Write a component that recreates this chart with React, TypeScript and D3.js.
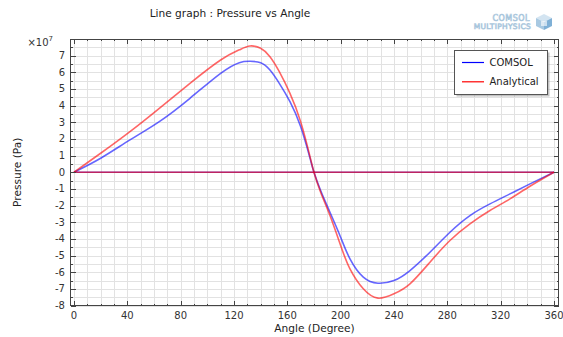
import React, { useEffect, useRef } from 'react';
import * as d3 from 'd3';

// angle in degrees, pressure in units of 1e7 Pa
const angles = [0, 20, 42, 64, 87, 110, 124, 132, 140, 147, 154, 162, 170, 177, 180, 185, 192, 200, 207, 217, 228, 240, 252, 267, 282, 297, 312, 327, 342, 360];
const comsol = [0, 0.84, 1.94, 3.04, 4.44, 5.94, 6.58, 6.66, 6.58, 6.14, 5.34, 4.24, 2.74, 0.85, 0, -1.1, -2.4, -3.9, -5.2, -6.3, -6.66, -6.5, -5.9, -4.8, -3.6, -2.6, -1.9, -1.3, -0.7, 0];
const analytical = [0, 1.14, 2.44, 3.84, 5.34, 6.74, 7.35, 7.58, 7.44, 6.94, 6.04, 4.74, 3.04, 0.95, 0, -1.2, -2.6, -4.4, -5.8, -7.0, -7.56, -7.3, -6.7, -5.4, -4.1, -3.1, -2.3, -1.6, -0.84, 0];
// closing segment along the zero line
const baseAngles = [0, 360];
const baseValues = [0, 0];

const xTicks = [0, 40, 80, 120, 160, 200, 240, 280, 320, 360];
const yTicks = [-8, -7, -6, -5, -4, -3, -2, -1, 0, 1, 2, 3, 4, 5, 6, 7];

const seriesNames = ['COMSOL', 'Analytical'];
const seriesColors = ['#0000ff', '#ff0000'];

const FONT = 'DejaVu Sans, Verdana, sans-serif';

function LineGraph() {
  const ref = useRef<SVGSVGElement>(null);

  useEffect(() => {
    const width = 563;
    const height = 337;
    const plot = { left: 70.5, right: 558.5, top: 39, bottom: 305.5 };

    const svg = d3.select(ref.current);
    svg.selectAll('*').remove();
    svg.attr('width', width).attr('height', height).style('background', 'white');

    const x = d3.scaleLinear().domain([-2.6, 363.4]).range([plot.left, plot.right]);
    const y = d3.scaleLinear().domain([-8, 8]).range([plot.bottom, plot.top]);

    const minorX = d3.range(0, 361, 10);
    const minorY = d3.range(-8, 8.01, 0.5);

    // grid
    const grid = svg.append('g').attr('stroke', '#e2e2e2').attr('stroke-width', 1).attr('shape-rendering', 'crispEdges');
    grid.selectAll('.gx').data(minorX).enter().append('line')
      .attr('x1', d => Math.round(x(d)) + 0.5).attr('x2', d => Math.round(x(d)) + 0.5)
      .attr('y1', plot.top).attr('y2', plot.bottom);
    grid.selectAll('.gy').data(minorY).enter().append('line')
      .attr('y1', d => Math.round(y(d)) + 0.5).attr('y2', d => Math.round(y(d)) + 0.5)
      .attr('x1', plot.left).attr('x2', plot.right);

    // curves
    const line = d3.line<[number, number]>()
      .x(d => x(d[0]))
      .y(d => y(d[1]))
      .curve(d3.curveNatural);

    [comsol, analytical].forEach((vals, i) => {
      const pts = angles.map((a, k) => [a, vals[k]] as [number, number]);
      const base = baseAngles.map((a, k) => [a, baseValues[k]] as [number, number]);
      svg.append('path').datum(base).attr('d', line)
        .attr('fill', 'none').attr('stroke', seriesColors[i]).attr('stroke-opacity', 0.6).attr('stroke-width', 1.6);
      svg.append('path').datum(pts).attr('d', line)
        .attr('fill', 'none').attr('stroke', seriesColors[i]).attr('stroke-opacity', 0.6).attr('stroke-width', 1.6);
    });

    // frame + ticks
    const axes = svg.append('g').attr('stroke', '#444').attr('shape-rendering', 'crispEdges');
    axes.append('rect')
      .attr('x', plot.left).attr('y', plot.top)
      .attr('width', plot.right - plot.left).attr('height', plot.bottom - plot.top)
      .attr('fill', 'none').attr('stroke-width', 1);

    minorX.forEach(d => {
      const len = d % 40 === 0 ? 5 : 2;
      const px = Math.round(x(d)) + 0.5;
      axes.append('line').attr('x1', px).attr('x2', px).attr('y1', plot.bottom).attr('y2', plot.bottom - len);
      axes.append('line').attr('x1', px).attr('x2', px).attr('y1', plot.top).attr('y2', plot.top + len);
    });
    minorY.forEach(d => {
      const len = Number.isInteger(d) ? 5 : 2;
      const py = Math.round(y(d)) + 0.5;
      axes.append('line').attr('y1', py).attr('y2', py).attr('x1', plot.left).attr('x2', plot.left + len);
      axes.append('line').attr('y1', py).attr('y2', py).attr('x1', plot.right).attr('x2', plot.right - len);
    });

    // tick labels
    svg.append('g').selectAll('text').data(xTicks).enter().append('text')
      .text(d => String(d))
      .attr('x', d => x(d)).attr('y', 319)
      .attr('text-anchor', 'middle')
      .style('font-family', FONT).style('font-size', '10px').attr('fill', '#333');

    svg.append('g').selectAll('text').data(yTicks).enter().append('text')
      .text(d => String(d))
      .attr('x', 65).attr('y', d => y(d)).attr('dy', '0.35em')
      .attr('text-anchor', 'end')
      .style('font-family', FONT).style('font-size', '10px').attr('fill', '#333');

    // exponent
    const expo = svg.append('text').attr('x', 53).attr('y', 46).attr('text-anchor', 'end')
      .style('font-family', FONT).style('font-size', '10px').attr('fill', '#333');
    expo.append('tspan').text('\u00d710');
    expo.append('tspan').text('7').attr('dy', -5).style('font-size', '7px');

    // axis titles
    svg.append('text').text('Angle (Degree)')
      .attr('x', (plot.left + plot.right) / 2).attr('y', 332).attr('text-anchor', 'middle')
      .style('font-family', FONT).style('font-size', '10.6px').attr('fill', '#222');
    svg.append('text').text('Pressure (Pa)')
      .attr('transform', `translate(21, ${(plot.top + plot.bottom) / 2}) rotate(-90)`)
      .attr('text-anchor', 'middle')
      .style('font-family', FONT).style('font-size', '10.6px').attr('fill', '#222');

    // chart title
    svg.append('text').text('Line graph : Pressure vs Angle')
      .attr('x', 230).attr('y', 16.5).attr('text-anchor', 'middle')
      .style('font-family', FONT).style('font-size', '10.6px').attr('fill', '#222');

    // legend
    const lg = svg.append('g');
    lg.append('rect').attr('x', 456.5).attr('y', 52.5).attr('width', 93).attr('height', 44)
      .attr('fill', '#9a9a9a').attr('opacity', 0.6);
    lg.append('rect').attr('x', 454.5).attr('y', 50.5).attr('width', 93).attr('height', 44)
      .attr('fill', 'white').attr('stroke', '#555').attr('shape-rendering', 'crispEdges');
    seriesNames.forEach((name, i) => {
      const ly = 62.5 + i * 19.3;
      lg.append('line').attr('x1', 462).attr('x2', 484).attr('y1', ly).attr('y2', ly)
        .attr('stroke', seriesColors[i]).attr('stroke-width', 1.2);
      lg.append('text').text(name).attr('x', 489.5).attr('y', ly).attr('dy', '0.36em')
        .style('font-family', FONT).style('font-size', '10px').attr('fill', '#222');
    });

    // COMSOL logo
    const logo = svg.append('g').attr('fill', '#ffffff').attr('stroke', '#a9c6dc').attr('stroke-width', 0.7);
    logo.append('text').text('COMSOL').attr('x', 530).attr('y', 20.5).attr('text-anchor', 'end')
      .style('font-family', FONT).style('font-size', '8px').style('letter-spacing', '0.5px');
    logo.append('text').text('MULTIPHYSICS').attr('x', 531).attr('y', 28.5).attr('text-anchor', 'end')
      .style('font-family', FONT).style('font-size', '7.5px').style('letter-spacing', '0.3px');
    const cube = svg.append('g').attr('transform', 'translate(544, 22)');
    cube.append('path').attr('d', 'M0,-8 L8,-4 L0,0 L-8,-4 Z').attr('fill', '#d3e4f1');
    cube.append('path').attr('d', 'M-8,-4 L0,0 L0,8 L-8,4 Z').attr('fill', '#a8c9e2');
    cube.append('path').attr('d', 'M8,-4 L0,0 L0,8 L8,4 Z').attr('fill', '#7fb0d6');
    cube.append('path').attr('d', 'M-3,-1 L3,-1 L3,4 L-3,4 Z').attr('fill', '#ffffff').attr('opacity', 0.6);
  }, []);

  return <svg ref={ref} style={{ position: 'absolute', left: 0, top: 0 }} />;
}

export default function App() {
  return <LineGraph />;
}
